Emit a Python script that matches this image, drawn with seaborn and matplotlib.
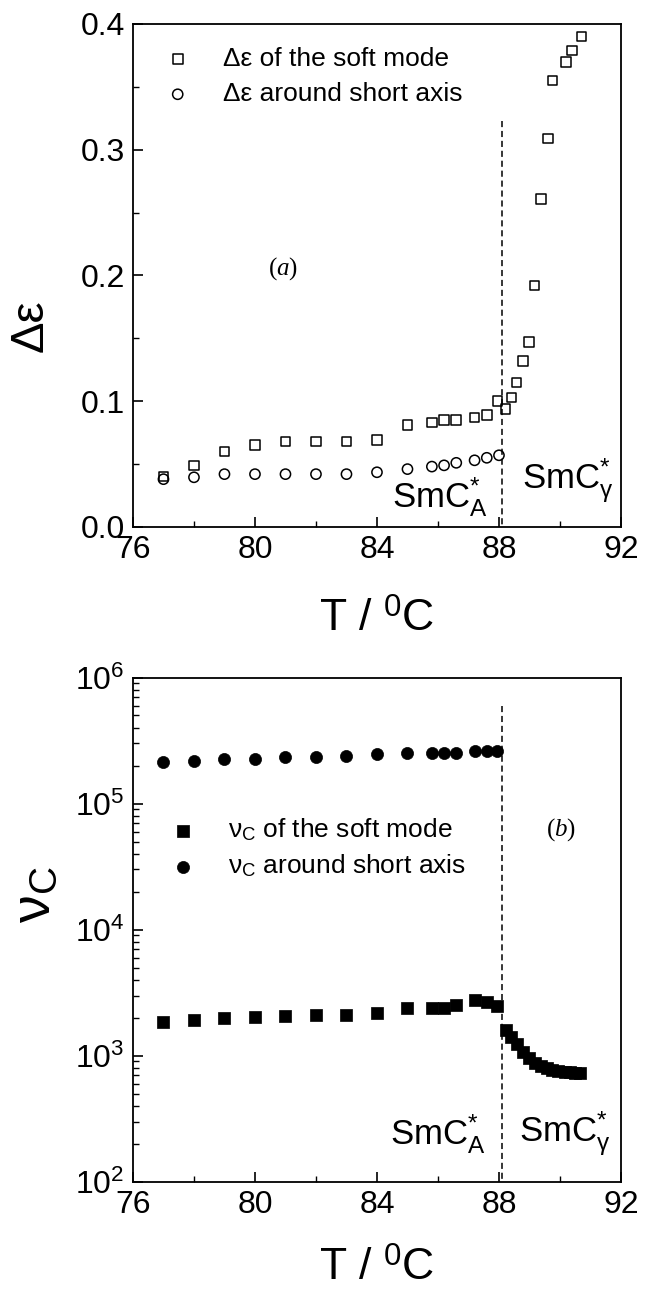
import matplotlib
matplotlib.use("Agg")
import matplotlib.pyplot as plt
import seaborn as sns
from matplotlib.ticker import MultipleLocator, FormatStrFormatter, LogLocator, NullFormatter

# ---------------- data ----------------
# panel (a): dielectric strength
T_soft_a = [77, 78, 79, 80, 81, 82, 83, 84, 85, 85.8, 86.2, 86.6, 87.2, 87.6, 87.95,
            88.22, 88.41, 88.58, 88.78, 88.98, 89.17, 89.38, 89.6, 89.75, 90.2, 90.4, 90.7]
de_soft = [0.040, 0.049, 0.060, 0.065, 0.068, 0.068, 0.068, 0.069, 0.081, 0.083, 0.085,
           0.085, 0.087, 0.089, 0.100, 0.094, 0.103, 0.115, 0.132, 0.147, 0.192, 0.261,
           0.309, 0.355, 0.370, 0.379, 0.390]
T_short_a = [77, 78, 79, 80, 81, 82, 83, 84, 85, 85.8, 86.2, 86.6, 87.2, 87.6, 88.0]
de_short = [0.038, 0.0395, 0.042, 0.042, 0.042, 0.042, 0.042, 0.0435, 0.046, 0.048,
            0.049, 0.051, 0.053, 0.055, 0.057]

# panel (b): critical frequency
T_soft_b = [77, 78, 79, 80, 81, 82, 83, 84, 85, 85.8, 86.2, 86.6, 87.2, 87.6, 87.95,
            88.22, 88.41, 88.58, 88.78, 88.98, 89.17, 89.38, 89.58, 89.74, 89.95,
            90.15, 90.34, 90.5, 90.66]
nu_soft = [1853, 1927, 1991, 2018, 2046, 2085, 2085, 2197, 2377, 2377, 2377, 2537, 2742,
           2655, 2455, 1607, 1409, 1237, 1071, 952, 880, 825, 793, 773, 757, 748, 738,
           733, 728]
T_short_b = [77, 78, 79, 80, 81, 82, 83, 84, 85, 85.8, 86.2, 86.6, 87.2, 87.6, 87.95]
nu_short = [2.13e5, 2.18e5, 2.25e5, 2.27e5, 2.33e5, 2.36e5, 2.38e5, 2.49e5, 2.52e5,
            2.52e5, 2.53e5, 2.54e5, 2.62e5, 2.62e5, 2.62e5]

# phase transition SmCA* -> SmCgamma*
T_transition = 88.1
dash_top_a = 0.3226
dash_top_b = 5.9e5

# ---------------- style ----------------
sns.set_theme(style="ticks")
plt.rcParams["font.family"] = ["Liberation Sans", "DejaVu Sans"]
plt.rcParams.update({
    "mathtext.fontset": "custom",
    "mathtext.rm": "Liberation Sans",
    "mathtext.it": "Liberation Serif:italic",
    "mathtext.bf": "Liberation Sans:bold",
    "mathtext.sf": "Liberation Sans",
    "axes.linewidth": 1.3,
    "axes.edgecolor": "black",
    "xtick.direction": "in",
    "ytick.direction": "in",
    "xtick.color": "black",
    "ytick.color": "black",
    "text.color": "black",
    "axes.labelcolor": "black",
})

TICK_FS = 23
LABEL_FS = 32
LEG_FS = 19
PHASE_FS = 25

fig = plt.figure(figsize=(6.48, 12.96), dpi=100)
ax1 = fig.add_axes([0.2052, 0.5934, 0.7531, 0.3881])
ax2 = fig.add_axes([0.2052, 0.0882, 0.7531, 0.3890])


def style_axes(ax):
    ax.tick_params(which="major", length=7, width=1.2, labelsize=TICK_FS, pad=6,
                   top=False, right=False)
    ax.tick_params(which="minor", length=4, width=1.0, top=False, right=False)
    for sp in ax.spines.values():
        sp.set_visible(True)
        sp.set_linewidth(1.3)
        sp.set_color("black")


PHASE_A = "$\\mathregular{SmC_{A}^{*}}$"
PHASE_G = "$\\mathregular{SmC_{γ}^{*}}$"

# ---------------- panel (a) ----------------
sns.scatterplot(x=T_soft_a, y=de_soft, marker="s", s=48, facecolors="none",
                edgecolor="black", linewidth=1.1, label="Δε of the soft mode", ax=ax1)
sns.scatterplot(x=T_short_a, y=de_short, marker="o", s=54, facecolors="none",
                edgecolor="black", linewidth=1.1, label="Δε around short axis", ax=ax1)
ax1.plot([T_transition, T_transition], [dash_top_a, 0], color="black", lw=1.1,
         ls=(0, (4, 2.5)))
ax1.set_xlim(76, 92)
ax1.set_ylim(0, 0.4)
ax1.xaxis.set_major_locator(MultipleLocator(4))
ax1.xaxis.set_minor_locator(MultipleLocator(2))
ax1.yaxis.set_major_locator(MultipleLocator(0.1))
ax1.yaxis.set_minor_locator(MultipleLocator(0.05))
ax1.yaxis.set_major_formatter(FormatStrFormatter("%.1f"))
style_axes(ax1)
ax1.set_xlabel("T / $^\\mathregular{0}$C", fontsize=LABEL_FS, labelpad=24)
ax1.set_ylabel("Δε", fontsize=34)
ax1.yaxis.set_label_coords(-0.165, 0.40)
ax1.legend(loc="upper left", bbox_to_anchor=(0.043, 0.975), frameon=False,
           fontsize=LEG_FS, handlelength=1.0, handletextpad=1.2, labelspacing=0.42,
           borderaxespad=0.0)
ax1.text(0.307, 0.514, "($\\mathit{a}$)", transform=ax1.transAxes, fontsize=18,
         family="Liberation Serif", ha="center", va="center")
ax1.text(0.530, 0.040, PHASE_A, transform=ax1.transAxes,
         fontsize=PHASE_FS, ha="left", va="baseline")
ax1.text(0.797, 0.074, PHASE_G, transform=ax1.transAxes,
         fontsize=PHASE_FS, ha="left", va="baseline")

# ---------------- panel (b) ----------------
sns.scatterplot(x=T_soft_b, y=nu_soft, marker="s", s=66, color="black",
                edgecolor="black", linewidth=0.5,
                label="ν$_\\mathregular{C}$ of the soft mode", ax=ax2)
sns.scatterplot(x=T_short_b, y=nu_short, marker="o", s=76, color="black",
                edgecolor="black", linewidth=0.5,
                label="ν$_\\mathregular{C}$ around short axis", ax=ax2)
ax2.set_yscale("log")
ax2.plot([T_transition, T_transition], [dash_top_b, 1e2], color="black", lw=1.1,
         ls=(0, (4, 2.5)))
ax2.set_xlim(76, 92)
ax2.set_ylim(1e2, 1e6)
ax2.xaxis.set_major_locator(MultipleLocator(4))
ax2.xaxis.set_minor_locator(MultipleLocator(2))
ax2.yaxis.set_major_locator(LogLocator(base=10, numticks=10))
ax2.yaxis.set_minor_locator(LogLocator(base=10, subs=range(2, 10), numticks=50))
ax2.yaxis.set_minor_formatter(NullFormatter())
style_axes(ax2)
ax2.set_xlabel("T / $^\\mathregular{0}$C", fontsize=LABEL_FS, labelpad=20)
ax2.set_ylabel("ν$_\\mathregular{C}$", fontsize=40)
ax2.yaxis.set_label_coords(-0.145, 0.57)
ax2.legend(loc="upper left", bbox_to_anchor=(0.054, 0.745), frameon=False,
           fontsize=LEG_FS, handlelength=1.0, handletextpad=1.2, labelspacing=0.35,
           borderaxespad=0.0)
ax2.text(0.877, 0.699, "($\\mathit{b}$)", transform=ax2.transAxes, fontsize=18,
         family="Liberation Serif", ha="center", va="center")
ax2.text(0.526, 0.0745, PHASE_A, transform=ax2.transAxes,
         fontsize=PHASE_FS, ha="left", va="baseline")
ax2.text(0.792, 0.078, PHASE_G, transform=ax2.transAxes,
         fontsize=PHASE_FS, ha="left", va="baseline")

fig.savefig("out.png", dpi=100, facecolor="white")
